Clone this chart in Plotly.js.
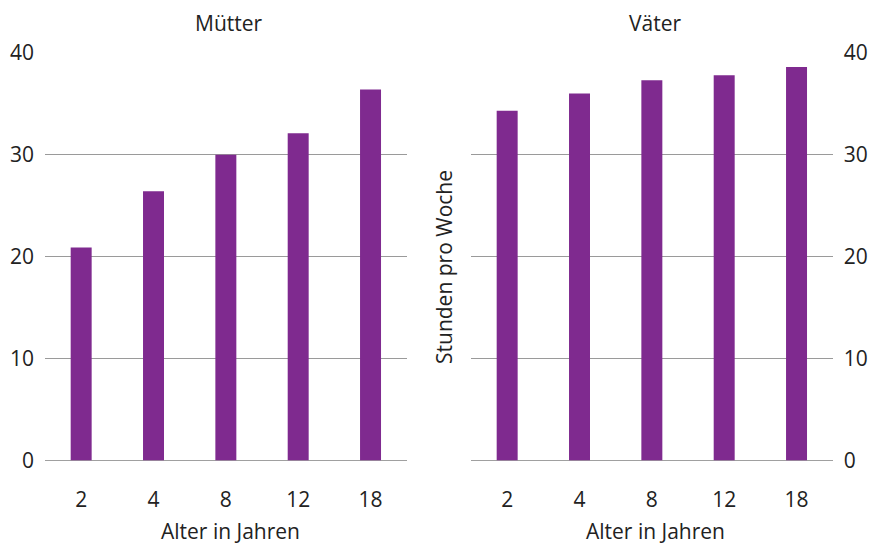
<!DOCTYPE html>
<html><head><meta charset="utf-8">
<script src="https://cdn.plot.ly/plotly-3.0.1.min.js"></script>
<style>html,body{margin:0;padding:0;background:#fff}#c{width:869px;height:546px}</style>
</head><body><div id="c"></div>
<script>
const ages = ['2','4','8','12','18'];
const muetter = [20.9, 26.4, 30.0, 32.1, 36.4];
const vaeter = [34.3, 36.0, 37.3, 37.8, 38.6];
const yTicks = [0,10,20,30,40];

const W=869,H=546;
const barColor='#7F2A8F';
const font={family:'Open Sans, Noto Sans, sans-serif',size:21,color:'#222'};
const yb=1-460.5/H, yt=1-52.7/H;
const traces=[
 {type:'bar',x:ages,y:muetter,xaxis:'x',yaxis:'y',marker:{color:barColor},hoverinfo:'skip'},
 {type:'bar',x:ages,y:vaeter,xaxis:'x2',yaxis:'y2',marker:{color:barColor},hoverinfo:'skip'}
];
const xa={type:'category',showgrid:false,zeroline:false,showline:false,ticks:'',ticklabelstandoff:24,tickfont:font};
const ya={range:[0,40],tickvals:yTicks,showgrid:true,gridcolor:'#9a9a9a',gridwidth:1,zeroline:true,zerolinecolor:'#a0a0a0',zerolinewidth:1.5,showline:false,ticks:'',tickfont:font,ticklabelstandoff:10,fixedrange:true};
const layout={
 width:W,height:H,margin:{l:0,r:0,t:0,b:0},paper_bgcolor:'#fff',plot_bgcolor:'#fff',
 showlegend:false,bargap:0.71,font:font,
 xaxis:Object.assign({},xa,{domain:[45/W,406.7/W],anchor:'y'}),
 xaxis2:Object.assign({},xa,{domain:[471/W,832.7/W],anchor:'y2'}),
 yaxis:Object.assign({},ya,{domain:[yb,yt],anchor:'x',side:'left'}),
 yaxis2:Object.assign({},ya,{domain:[yb,yt],anchor:'x2',side:'right'}),
 annotations:[
  {text:'Mütter',xref:'paper',yref:'paper',x:229/W,y:1-23/H,showarrow:false,font:font,xanchor:'center',yanchor:'middle'},
  {text:'Väter',xref:'paper',yref:'paper',x:655/W,y:1-23/H,showarrow:false,font:font,xanchor:'center',yanchor:'middle'},
  {text:'Alter in Jahren',xref:'paper',yref:'paper',x:230/W,y:1-531/H,showarrow:false,font:font,xanchor:'center',yanchor:'middle'},
  {text:'Alter in Jahren',xref:'paper',yref:'paper',x:655/W,y:1-531/H,showarrow:false,font:font,xanchor:'center',yanchor:'middle'},
  {text:'Stunden pro Woche',xref:'paper',yref:'paper',x:444/W,y:1-267/H,showarrow:false,font:font,textangle:-90,xanchor:'center',yanchor:'middle'}
 ]
};
Plotly.newPlot('c',traces,layout,{staticPlot:true,displayModeBar:false});
</script></body></html>
